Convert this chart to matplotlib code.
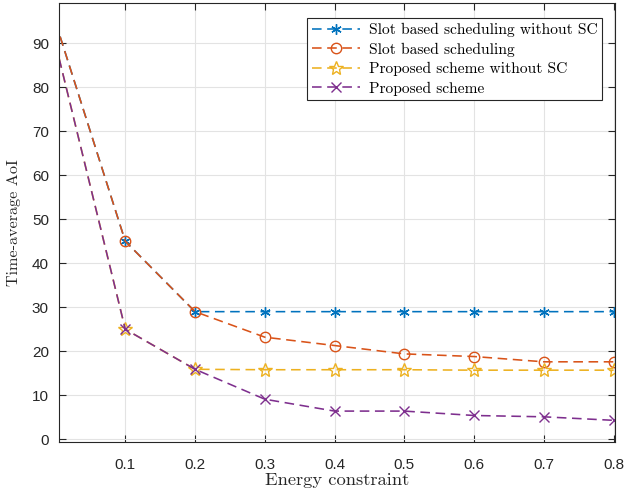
import matplotlib
matplotlib.use("Agg")
import matplotlib.pyplot as plt

x = [0.0, 0.1, 0.2, 0.3, 0.4, 0.5, 0.6, 0.7, 0.8]
slot_no_sc = [94.8, 45.0, 29.0, 29.0, 29.0, 29.0, 29.0, 29.0, 29.0]
slot = [94.8, 45.0, 29.0, 23.2, 21.3, 19.4, 18.8, 17.6, 17.6]
prop_no_sc = [89.9, 25.0, 15.9, 15.8, 15.8, 15.8, 15.7, 15.7, 15.7]
prop = [89.9, 25.0, 15.9, 9.1, 6.4, 6.4, 5.4, 5.1, 4.3]

labels = ["Slot based scheduling without SC", "Slot based scheduling",
          "Proposed scheme without SC", "Proposed scheme"]
xticks = [0.1, 0.2, 0.3, 0.4, 0.5, 0.6, 0.7, 0.8]
yticks = [0, 10, 20, 30, 40, 50, 60, 70, 80, 90]

plt.rcParams['font.family'] = ['Liberation Sans', 'DejaVu Sans']
plt.rcParams['mathtext.fontset'] = 'cm'

fig = plt.figure(figsize=(6.24, 4.97), dpi=100)
ax = fig.add_axes([0.094, 0.110, 0.8916, 0.8844])

serif = ['cmr10', 'DejaVu Serif']

ls = (0, (6, 3.5))
lw = 1.15
ax.plot(x, slot_no_sc, color='#0072BD', marker=(6, 2, 0), markeredgewidth=1.0,
        markersize=7.5, linestyle=ls, linewidth=lw, markevery=slice(1, None),
        label=labels[0])
ax.plot(x, slot, color='#D95319', marker='o', fillstyle='none', markeredgewidth=1.0,
        markersize=7.5, linestyle=ls, linewidth=lw, markevery=slice(1, None),
        label=labels[1])
ax.plot(x, prop_no_sc, color='#EDB120', marker='*', fillstyle='none', markeredgewidth=1.0,
        markersize=10, linestyle=ls, linewidth=lw, markevery=slice(1, None),
        label=labels[2])
ax.plot(x, prop, color='#7E2F8E', marker='x', markeredgewidth=1.0,
        markersize=6.5, linestyle=ls, linewidth=lw, markevery=slice(1, None),
        label=labels[3])

ax.set_xlim(0.0045, 0.802)
ax.set_ylim(-0.7, 99.2)
ax.set_xticks(xticks)
ax.set_xticklabels([f"{t:.1f}" for t in xticks])
ax.set_yticks(yticks)
ax.grid(True, color='#e3e3e3', linewidth=0.8)
ax.set_axisbelow(True)
ax.tick_params(direction='in', top=True, right=True, labelsize=11,
               colors='#262626', length=5, width=0.8)
ax.tick_params(axis='x', pad=11)
ax.tick_params(axis='y', pad=7)
for s in ax.spines.values():
    s.set_color('#262626')
    s.set_linewidth(0.8)

ax.set_xlabel("Energy constraint", family=serif, fontsize=13.3, color='#262626', labelpad=1)
ax.set_ylabel("Time-average AoI", family=serif, fontsize=11.6, color='#262626', labelpad=8)

leg = ax.legend(loc='upper right', bbox_to_anchor=(0.9766, 0.965),
                prop={'family': serif, 'size': 11.2},
                fancybox=False, framealpha=1, edgecolor='#262626',
                handlelength=3.1, handletextpad=0.55, borderpad=0.3,
                labelspacing=0.34, borderaxespad=0.0)
leg.get_frame().set_linewidth(0.8)

fig.savefig("out.png", dpi=100)
